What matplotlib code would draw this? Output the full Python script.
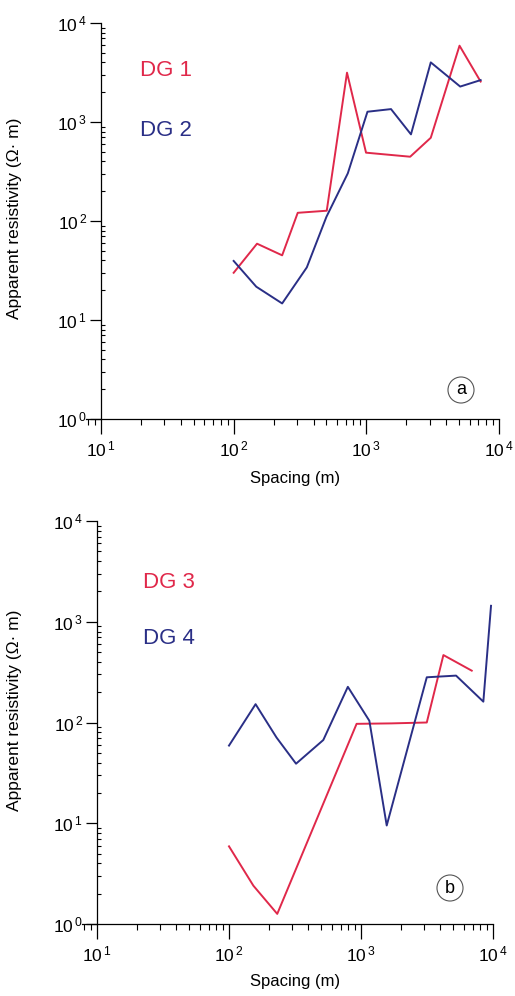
import matplotlib
matplotlib.use("Agg")
import matplotlib.pyplot as plt
from matplotlib.ticker import LogLocator, NullFormatter, FixedLocator
import numpy as np

plt.rcParams['font.family'] = ['Liberation Sans', 'DejaVu Sans']
plt.rcParams['mathtext.fontset'] = 'custom'
plt.rcParams['mathtext.rm'] = 'Liberation Sans'
plt.rcParams['mathtext.default'] = 'regular'

# ---- data ----
dg1_x = [100, 150, 232, 304, 503, 715, 995, 2140, 3060, 5040, 7270]
dg1_y = [30, 59, 45, 121, 127, 3150, 490, 446, 693, 5900, 2560]

dg2_x = [100, 148, 232, 356, 500, 725, 1020, 1535, 2170, 3060, 5100, 7270]
dg2_y = [39.5, 21.7, 14.7, 34, 110, 303, 1270, 1350, 750, 4000, 2280, 2650]

dg3_x = [100, 153, 232, 926, 1700, 3150, 4210, 6900]
dg3_y = [5.9, 2.4, 1.26, 97, 98, 100, 467, 327]

dg4_x = [100, 159, 229, 322, 518, 795, 1157, 1566, 3150, 5250, 8450, 9660]
dg4_y = [59, 152, 71, 39, 67, 226, 104, 9.5, 281, 292, 161, 1440]

decades = [10, 100, 1000, 10000]
ydecades = [1, 10, 100, 1000, 10000]
xticklabels = [r'$10^{\,1}$', r'$10^{\,2}$', r'$10^{\,3}$', r'$10^{\,4}$']
yticklabels = [r'$10^{\,0}$', r'$10^{\,1}$', r'$10^{\,2}$', r'$10^{\,3}$', r'$10^{\,4}$']
xlabel = "Spacing (m)"
ylabel = "Apparent resistivity (\u03a9\u00b7 m)"

RED = '#e0284a'
BLUE = '#2a2f86'

W, H = 515, 996
fig = plt.figure(figsize=(W / 100, H / 100), dpi=100)

XMIN = 7.7

def px(x):
    return x / W

def py(y):
    return 1 - y / H

def make_axes(spine_x, right_x, top_y, bottom_y):
    dec = (right_x - spine_x) / 3.0
    left = spine_x - (1 - np.log10(XMIN)) * dec
    return fig.add_axes([px(left), py(bottom_y), (right_x - left) / W, (bottom_y - top_y) / H])

def style(ax):
    ax.set_xscale('log')
    ax.set_yscale('log')
    ax.set_xlim(XMIN, 10000)
    ax.set_ylim(1, 10000)
    ax.spines['left'].set_position(('data', 10))
    ax.spines['top'].set_visible(False)
    ax.spines['right'].set_visible(False)
    for s in ['left', 'bottom']:
        ax.spines[s].set_linewidth(0.9)
    ax.xaxis.set_major_locator(FixedLocator(decades))
    ax.yaxis.set_major_locator(FixedLocator(ydecades))
    ax.xaxis.set_minor_locator(LogLocator(base=10, subs=np.arange(2, 10)))
    ax.yaxis.set_minor_locator(LogLocator(base=10, subs=np.arange(2, 10)))
    ax.xaxis.set_minor_formatter(NullFormatter())
    ax.yaxis.set_minor_formatter(NullFormatter())
    ax.set_xticklabels(xticklabels)
    ax.set_yticklabels(yticklabels)
    ax.tick_params(axis='x', which='major', direction='out', length=11, width=0.9, labelsize=12.5, pad=4)
    ax.tick_params(axis='x', which='minor', direction='out', length=4, width=0.8)
    ax.tick_params(axis='y', which='major', direction='out', length=8, width=0.9, labelsize=12.5, pad=2)
    ax.tick_params(axis='y', which='minor', direction='in', length=3, width=0.8)

# panel a
ax1 = make_axes(101, 499, 23, 419)
style(ax1)
ax1.plot(dg1_x, dg1_y, color=RED, lw=1.4)
ax1.plot(dg2_x, dg2_y, color=BLUE, lw=1.4)
fig.text(px(140), py(70), 'DG 1', color=RED, fontsize=16, va='center')
fig.text(px(140), py(130), 'DG 2', color=BLUE, fontsize=16, va='center')
fig.text(px(461), py(390), 'a', fontsize=13, ha='center', va='center',
         bbox=dict(boxstyle='circle,pad=0.25', fc='white', ec='#555555', lw=0.8))
fig.text(px(295), py(478), xlabel, fontsize=12, ha='center', va='center')
fig.text(px(15), py(218), ylabel, fontsize=12.5, ha='center', va='center', rotation=90)

# panel b
ax2 = make_axes(97, 493, 521, 924)
style(ax2)
ax2.plot(dg3_x, dg3_y, color=RED, lw=1.4)
ax2.plot(dg4_x, dg4_y, color=BLUE, lw=1.4)
fig.text(px(143), py(582), 'DG 3', color=RED, fontsize=16, va='center')
fig.text(px(143), py(639), 'DG 4', color=BLUE, fontsize=16, va='center')
fig.text(px(450), py(888), 'b', fontsize=13, ha='center', va='center',
         bbox=dict(boxstyle='circle,pad=0.25', fc='white', ec='#555555', lw=0.8))
fig.text(px(295), py(981), xlabel, fontsize=12, ha='center', va='center')
fig.text(px(15), py(710), ylabel, fontsize=12.5, ha='center', va='center', rotation=90)

fig.savefig('out.png', dpi=100, facecolor='white')
